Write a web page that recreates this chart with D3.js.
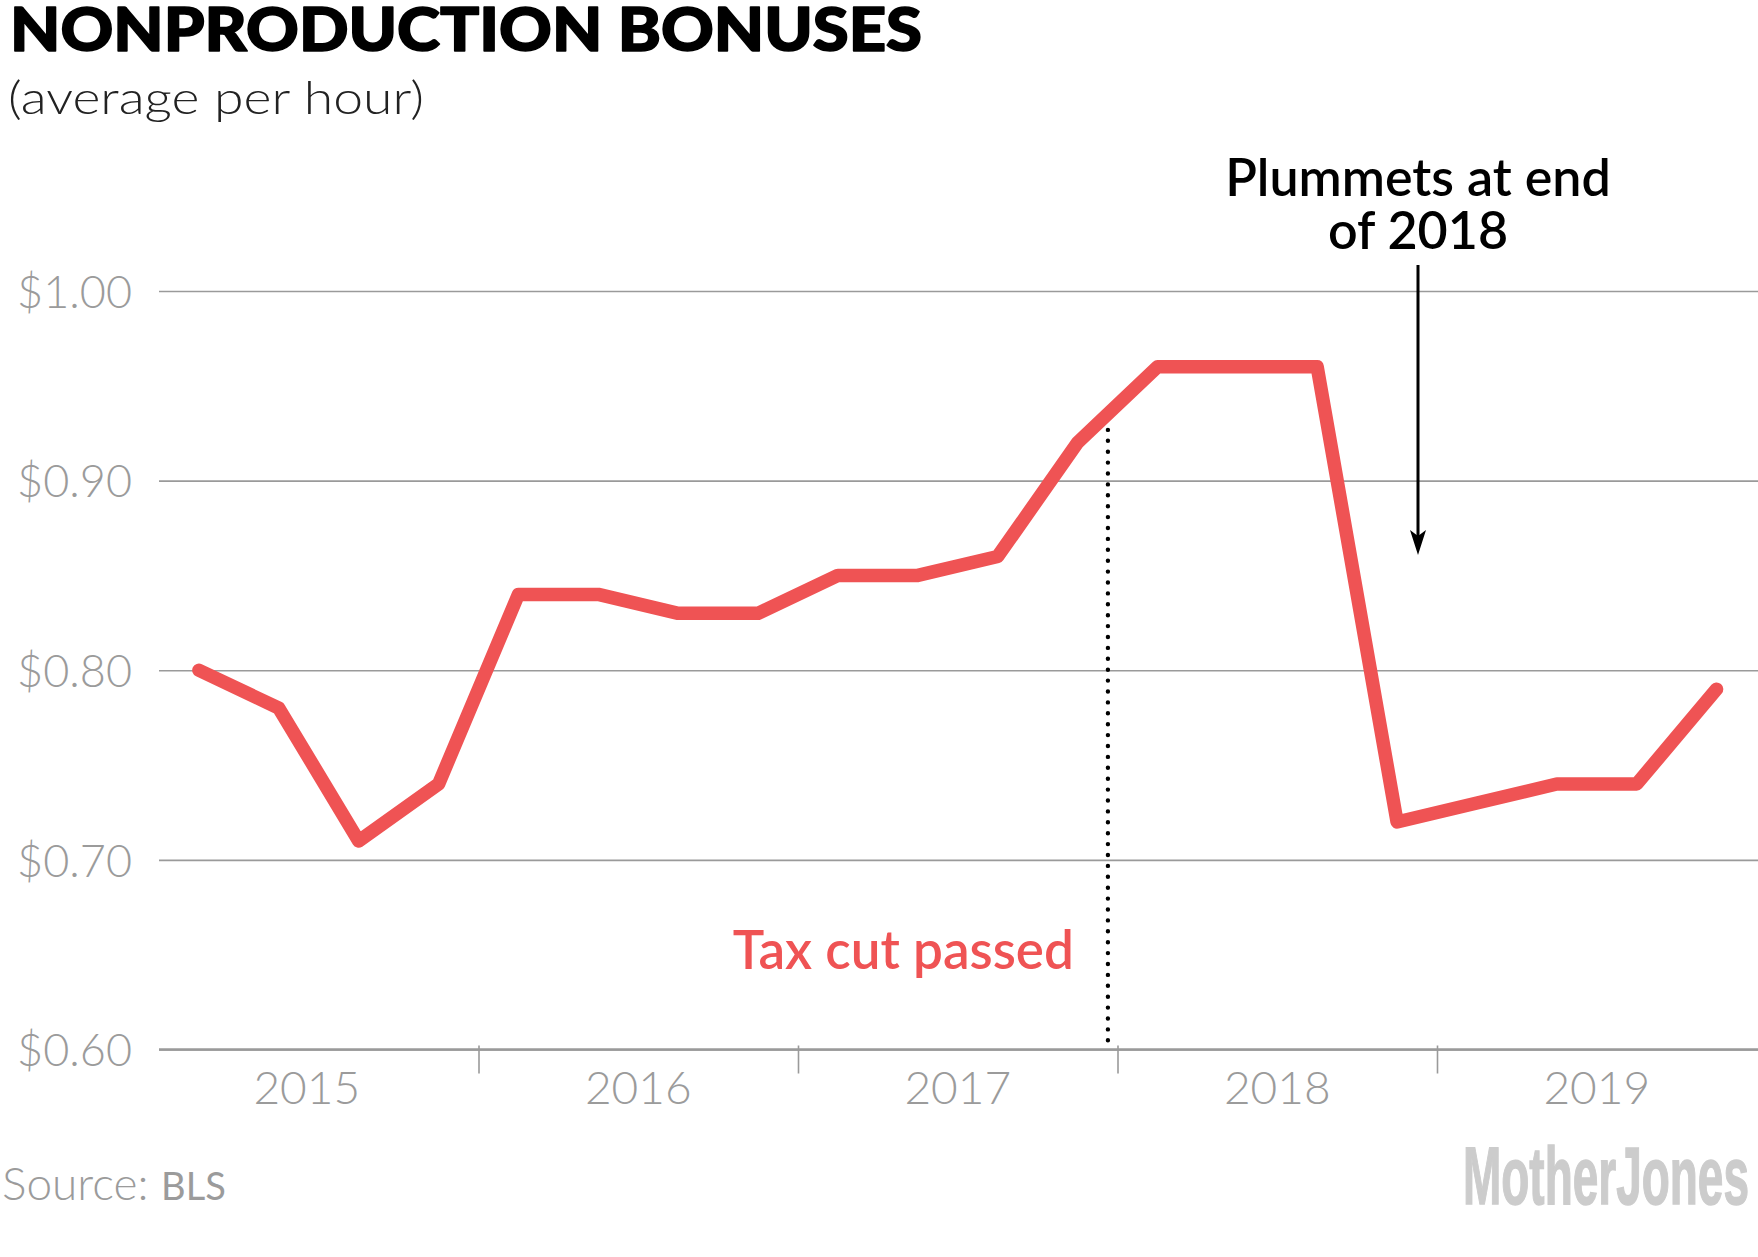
<!DOCTYPE html>
<html><head><meta charset="utf-8">
<script src="https://cdn.jsdelivr.net/npm/d3@7"></script>
<style>
html,body{margin:0;padding:0;background:#fff;}
svg{display:block;}
</style></head>
<body>
<svg id="chart" width="1758" height="1257"></svg>
<script>
// ---- data ----
const quarters = ["2015Q1","2015Q2","2015Q3","2015Q4","2016Q1","2016Q2","2016Q3","2016Q4","2017Q1","2017Q2","2017Q3","2017Q4","2018Q1","2018Q2","2018Q3","2018Q4","2019Q1","2019Q2","2019Q3","2019Q4"];
const bonuses = [0.80,0.78,0.71,0.74,0.84,0.84,0.83,0.83,0.85,0.85,0.86,0.92,0.96,0.96,0.96,0.72,0.73,0.74,0.74,0.79];
const yTicks = [0.60,0.70,0.80,0.90,1.00];
const yearLabels = ["2015","2016","2017","2018","2019"];
const yearTicks = [2016,2017,2018,2019];
const taxCutDate = 2017.97;
const titleText = "NONPRODUCTION BONUSES";
const subtitleText = "(average per hour)";
const sourceText = "Source:";
const sourceOrg = "BLS";
const taxCutLabel = "Tax cut passed";
const plummetLabel = ["Plummets at end","of 2018"];
const brand = "MotherJones";

// ---- layout ----
const W = 1758, H = 1257;
const red = "#ef5354";
const svg = d3.select("#chart");
const x = d3.scaleLinear().domain([2015, 2020]).range([159, 1756.5]);
const y = d3.scaleLinear().domain([0.60, 1.00]).range([1049.5, 291]);
const qTime = q => +q.slice(0,4) + (+q.slice(5) - 0.5) / 4;
const pts = quarters.map((q,i) => ({t: qTime(q), v: bonuses[i]}));

// title
svg.append("text").attr("x", 10).attr("y", 51)
  .attr("font-family", "Lato, 'Noto Sans', sans-serif").attr("font-weight", 900)
  .attr("font-size", 61).attr("fill", "#000")
  .attr("stroke", "#000").attr("stroke-width", 1.6).attr("stroke-linejoin", "round")
  .attr("textLength", 912).attr("lengthAdjust", "spacingAndGlyphs")
  .text(titleText);
svg.append("text").attr("x", 8).attr("y", 114)
  .attr("font-family", "Lato, 'Noto Sans', sans-serif").attr("font-weight", 300)
  .attr("font-size", 46).attr("fill", "#222")
  .attr("textLength", 416).attr("lengthAdjust", "spacingAndGlyphs")
  .text(subtitleText);

// gridlines
const yAxis = d3.axisLeft(y).tickValues(yTicks).tickSize(-(W - 159)).tickFormat(d => "$" + d.toFixed(2));
const gy = svg.append("g").attr("transform", "translate(159,0)").call(yAxis);
gy.select(".domain").remove();
gy.selectAll(".tick line").attr("stroke", "#9a9a9a").attr("stroke-width", 1.6);
gy.selectAll(".tick text").attr("x", -27).attr("dy", "0.36em")
  .attr("font-family", "Lato, 'Noto Sans', sans-serif").attr("font-weight", 300)
  .attr("font-size", 45).attr("fill", "#9b9b9b").attr("text-anchor", "end");

// x axis
const xAxis = d3.axisBottom(x).tickValues(yearTicks).tickSize(24).tickFormat("");
const gx = svg.append("g").attr("transform", `translate(0,${y(0.60)})`).call(xAxis);
gx.select(".domain").remove();
gx.selectAll(".tick line").attr("stroke", "#9a9a9a").attr("stroke-width", 1.6).attr("y1", -4);
svg.append("line").attr("x1", x(2015)).attr("x2", W).attr("y1", y(0.60)).attr("y2", y(0.60))
  .attr("stroke", "#9a9a9a").attr("stroke-width", 2.4);
svg.append("g").selectAll("text").data(yearLabels).join("text")
  .attr("x", d => x(+d + 0.5) - (d === "2015" ? 12 : 0)).attr("y", 1104)
  .attr("text-anchor", "middle")
  .attr("font-family", "Lato, 'Noto Sans', sans-serif").attr("font-weight", 300)
  .attr("font-size", 46).attr("fill", "#9b9b9b")
  .text(d => d);

// tax cut dotted line
const bis = d3.bisector(d => d.t).left;
const k = bis(pts, taxCutDate);
const a = pts[k-1], b = pts[k];
const vCut = a.v + (b.v - a.v) * (taxCutDate - a.t) / (b.t - a.t);
svg.append("line").attr("x1", x(taxCutDate)).attr("x2", x(taxCutDate))
  .attr("y1", y(vCut) + 16).attr("y2", y(0.60) - 2)
  .attr("stroke", "#000").attr("stroke-width", 4.4)
  .attr("stroke-linecap", "round").attr("stroke-dasharray", "0 10.9");
svg.append("text").attr("x", x(taxCutDate) - 34).attr("y", 969)
  .attr("text-anchor", "end")
  .attr("font-family", "Lato, 'Noto Sans', sans-serif").attr("font-weight", 600)
  .attr("font-size", 53).attr("fill", red)
  .text(taxCutLabel);

// data line
const line = d3.line().x(d => x(d.t)).y(d => y(d.v));
svg.append("path").datum(pts).attr("d", line)
  .attr("fill", "none").attr("stroke", red).attr("stroke-width", 13.5)
  .attr("stroke-linejoin", "round").attr("stroke-linecap", "round");

// plummets annotation
const ax = 1418;
const ann = svg.append("text").attr("text-anchor", "middle")
  .attr("font-family", "Lato, 'Noto Sans', sans-serif").attr("font-weight", 600)
  .attr("font-size", 52).attr("fill", "#000");
ann.selectAll("tspan").data(plummetLabel).join("tspan")
  .attr("x", ax).attr("y", (d,i) => 196 + i * 53).text(d => d);
svg.append("line").attr("x1", ax).attr("x2", ax).attr("y1", 265).attr("y2", 540)
  .attr("stroke", "#000").attr("stroke-width", 3);
svg.append("path").attr("d", `M${ax-8},530 L${ax},555 L${ax+8},530 L${ax},536 Z`).attr("fill", "#000");

// source
const src = svg.append("text").attr("x", 2).attr("y", 1200)
  .attr("font-family", "Lato, 'Noto Sans', sans-serif").attr("font-weight", 300)
  .attr("font-size", 46).attr("fill", "#9b9b9b");
src.append("tspan").text(sourceText + " ");
src.append("tspan").attr("font-size", 38).attr("font-weight", 400).text(sourceOrg);

// brand
svg.append("text").attr("x", 1463).attr("y", 1204)
  .attr("font-family", "'Liberation Sans Narrow', 'Liberation Sans', sans-serif").attr("font-weight", 700)
  .attr("font-size", 82).attr("fill", "#cccccc")
  .attr("stroke", "#cccccc").attr("stroke-width", 1.5)
  .attr("textLength", 286).attr("lengthAdjust", "spacingAndGlyphs")
  .text(brand);
</script>
</body></html>
